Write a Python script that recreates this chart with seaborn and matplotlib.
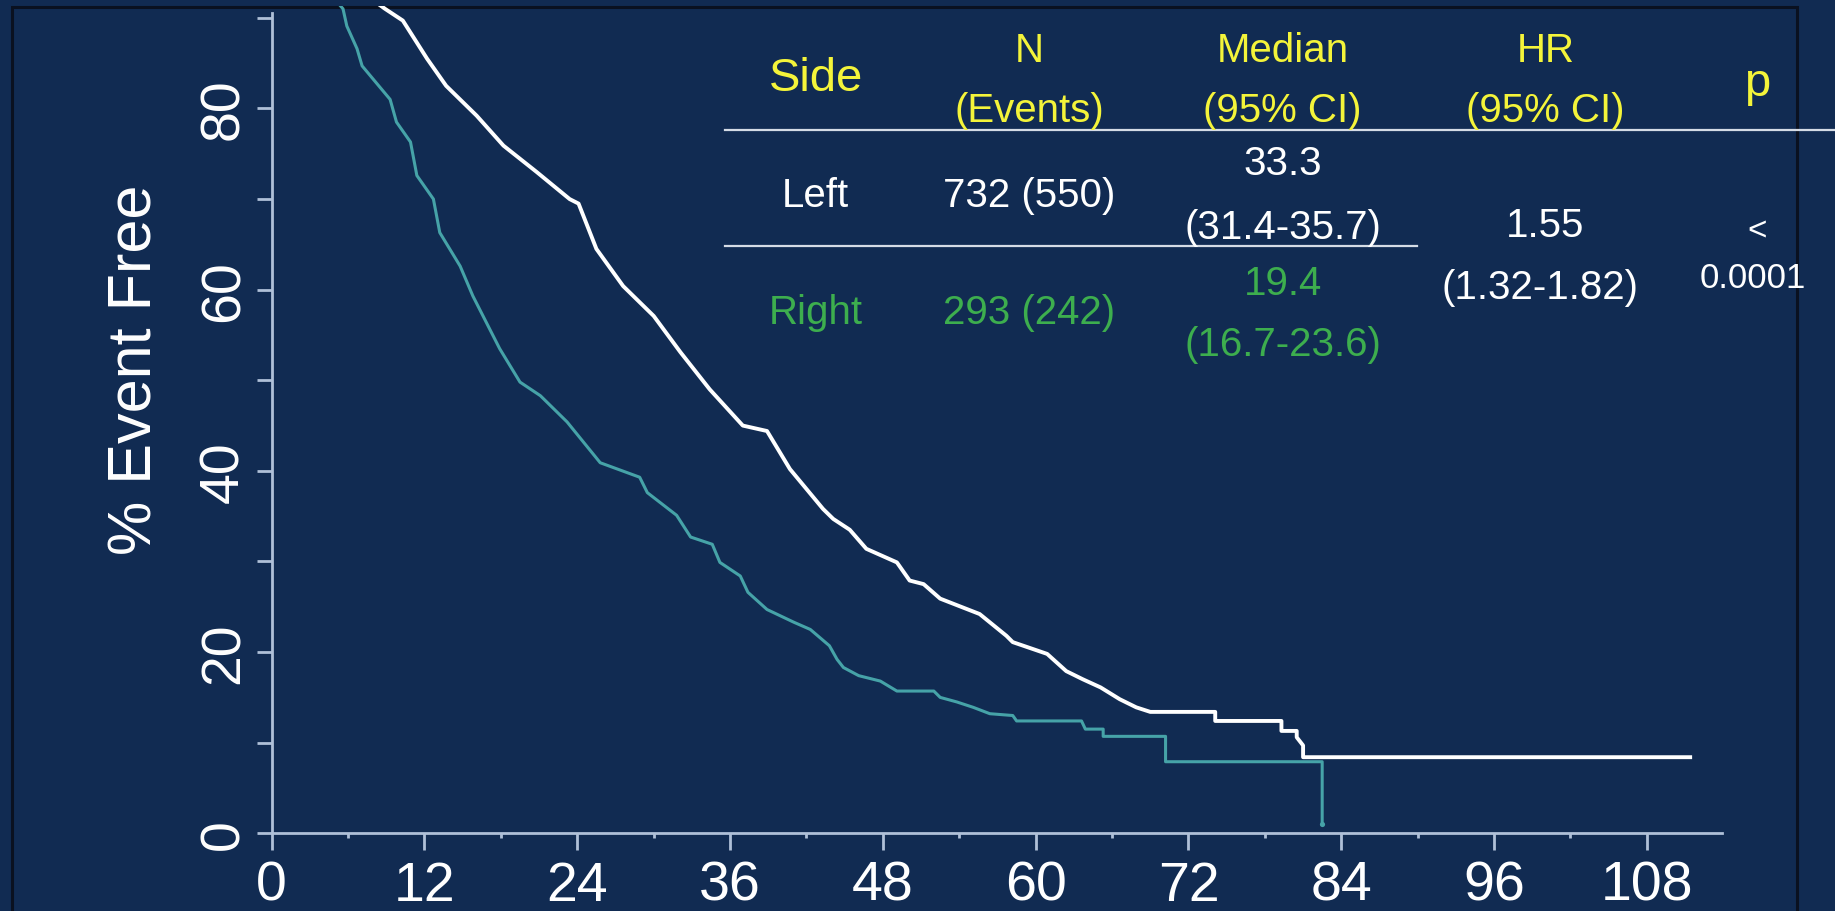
import matplotlib
matplotlib.use("Agg")
import matplotlib.pyplot as plt
import seaborn as sns
import pandas as pd
from matplotlib.lines import Line2D
from matplotlib.patches import Rectangle
from matplotlib.ticker import MultipleLocator

# ---------------- data ----------------
left_months = [0, 8.9, 10.3, 12.2, 13.7, 16.1, 18.2, 20.8, 23.4, 24.1, 25.5, 27.6,
               30.0, 32.1, 34.4, 37.0, 38.9, 40.7, 42.0, 43.3, 44.1, 45.4, 46.7,
               49.1, 50.1, 51.2, 52.5, 55.6, 57.7, 58.2, 60.9, 62.4, 63.7, 65.1,
               66.6, 67.9, 69.0, 74.1, 74.1, 79.3, 79.3, 80.5, 80.5, 81.0, 81.0, 111.4]
left_pct = [100, 91.0, 89.7, 85.5, 82.5, 79.2, 75.9, 73.0, 70.0, 69.5, 64.5, 60.4,
            57.1, 53.1, 49.0, 45.0, 44.4, 40.2, 38.0, 35.8, 34.7, 33.5, 31.4,
            29.9, 27.9, 27.5, 25.9, 24.2, 21.8, 21.1, 19.8, 17.9, 17.0, 16.1,
            14.8, 13.9, 13.4, 13.4, 12.4, 12.4, 11.3, 11.3, 10.6, 9.7, 8.4, 8.4]

right_months = [0, 5.6, 5.9, 6.7, 7.1, 9.3, 9.8, 10.9, 11.4, 12.7, 13.2, 14.8, 15.8,
                17.9, 19.5, 21.1, 23.2, 25.8, 28.9, 29.5, 31.8, 32.9, 34.6, 35.2,
                36.8, 37.4, 38.9, 41.0, 42.3, 43.8, 44.4, 44.9, 46.1, 47.8, 49.1,
                52.0, 52.5, 53.8, 55.1, 56.4, 58.2, 58.5, 63.6, 63.9, 65.3, 65.3,
                70.2, 70.2, 82.5, 82.5]
right_pct = [100, 91.0, 89.1, 86.6, 84.7, 81.0, 78.5, 76.3, 72.6, 70.0, 66.3, 62.6, 59.3,
             53.5, 49.8, 48.3, 45.4, 40.9, 39.3, 37.6, 35.1, 32.7, 31.9, 29.9,
             28.4, 26.6, 24.7, 23.3, 22.5, 20.7, 19.2, 18.3, 17.4, 16.8, 15.7,
             15.7, 15.0, 14.5, 13.9, 13.2, 13.0, 12.4, 12.4, 11.5, 11.5, 10.7,
             10.7, 7.9, 7.9, 1.0]

x_ticks = [0, 12, 24, 36, 48, 60, 72, 84, 96, 108]
y_ticks = [0, 20, 40, 60, 80]
y_label = "% Event Free"

hdr_row1 = ["N", "Median", "HR"]
hdr_row2 = ["(Events)", "(95% CI)", "(95% CI)"]
left_row = ["Left", "732 (550)", "33.3", "(31.4-35.7)"]
right_row = ["Right", "293 (242)", "19.4", "(16.7-23.6)"]
hr_text = ["1.55", "(1.32-1.82)"]
p_text = ["<", "0.0001"]

# ---------------- styling ----------------
BG = "#112B52"
SPINE = "#AFC0D8"
WHITE = "#FFFFFF"
TEAL = "#46A3A8"
YELLOW = "#F4F43A"
GREEN = "#3DAE4E"
FONT = "Liberation Sans"
plt.rcParams["font.family"] = [FONT, "DejaVu Sans"]

W, H = 1835, 912
fig = plt.figure(figsize=(W / 100, H / 100), dpi=100, facecolor=BG)

x0_px, x1_px = 271.7, 1722.0
y0_px, ytop_px = 834.3, 7.1
YTOP = 91.3
ax = fig.add_axes([x0_px / W, (H - y0_px) / H, (x1_px - x0_px) / W, (y0_px - ytop_px) / H])
ax.set_facecolor("none")

df = pd.concat([
    pd.DataFrame({"month": right_months, "pct": right_pct, "side": "Right"}),
    pd.DataFrame({"month": left_months, "pct": left_pct, "side": "Left"}),
], ignore_index=True)

sns.lineplot(data=df[df.side == "Right"], x="month", y="pct", color=TEAL,
             estimator=None, sort=False, linewidth=2.2, ax=ax, legend=False)
sns.scatterplot(x=[right_months[-1]], y=[right_pct[-1]], color=TEAL, s=14,
                linewidth=0, ax=ax, legend=False)
sns.lineplot(data=df[df.side == "Left"], x="month", y="pct", color=WHITE,
             estimator=None, sort=False, linewidth=2.8, ax=ax, legend=False)

ax.set_xlim(0, 113.9)
ax.set_ylim(0, YTOP)
ax.set_xticks(x_ticks)
ax.set_yticks(y_ticks)
ax.xaxis.set_minor_locator(MultipleLocator(6))
ax.yaxis.set_minor_locator(MultipleLocator(10))

for s in ["top", "right"]:
    ax.spines[s].set_visible(False)
for s in ["left", "bottom"]:
    ax.spines[s].set_color(SPINE)
    ax.spines[s].set_linewidth(2)
ax.spines["left"].set_bounds(0, 90.5)

ax.tick_params(axis="x", which="major", length=12, width=2, color=SPINE,
               labelsize=40, labelcolor=WHITE, pad=7)
ax.tick_params(axis="x", which="minor", length=3.5, width=2, color=SPINE)
ax.tick_params(axis="y", which="both", length=10.8, width=2, color=SPINE,
               labelsize=40, labelcolor=WHITE, pad=4.5)
for lab in ax.get_yticklabels():
    lab.set_rotation(90)
    lab.set_va("center")

ax.set_xlabel("")
ax.set_ylabel(y_label, fontsize=44, color=WHITE)
ax.yaxis.set_label_coords((165 - x0_px) / (x1_px - x0_px), (y0_px - 370) / (y0_px - ytop_px))

# ---------------- table text ----------------
def ft(x, y, s, color, size):
    fig.text(x / W, 1 - y / H, s, color=color, fontsize=size, ha="center", va="center")

col_x = [815.8, 1029.4, 1282.7, 1545.5]
BODY = 29
ft(col_x[0], 79, "Side", YELLOW, 34)
for cx, a, b in zip(col_x[1:], hdr_row1, hdr_row2):
    ft(cx, 51, a, YELLOW, BODY)
    ft(cx, 111, b, YELLOW, BODY)
ft(1756.8, 84, "p", YELLOW, 34)

ft(col_x[0], 196, left_row[0], WHITE, BODY)
ft(col_x[1], 196, left_row[1], WHITE, BODY)
ft(col_x[2], 164, left_row[2], WHITE, BODY)
ft(col_x[2], 228, left_row[3], WHITE, BODY)

ft(col_x[0], 313, right_row[0], GREEN, BODY)
ft(col_x[1], 313, right_row[1], GREEN, BODY)
ft(col_x[2], 284, right_row[2], GREEN, BODY)
ft(col_x[2], 345, right_row[3], GREEN, BODY)

ft(col_x[3], 226, hr_text[0], WHITE, BODY)
ft(1539.7, 288, hr_text[1], WHITE, BODY)
ft(1756.8, 232, p_text[0], WHITE, 24)
ft(1753.2, 278, p_text[1], WHITE, 25)

LINE_C = "#D5DCE6"
fig.add_artist(Line2D([725 / W, 1.0], [1 - 130.7 / H, 1 - 130.7 / H],
                      transform=fig.transFigure, color=LINE_C, lw=1.6))
fig.add_artist(Line2D([725 / W, 1417 / W], [1 - 246.7 / H, 1 - 246.7 / H],
                      transform=fig.transFigure, color=LINE_C, lw=1.6))

# slide frame
fig.add_artist(Rectangle((12 / W, -0.02), (1797 - 12) / W, 1.02 - 8 / H,
                         transform=fig.transFigure, fill=False,
                         edgecolor="#0A1120", lw=2.2, zorder=0))

fig.savefig("out.png", dpi=100, facecolor=BG)
